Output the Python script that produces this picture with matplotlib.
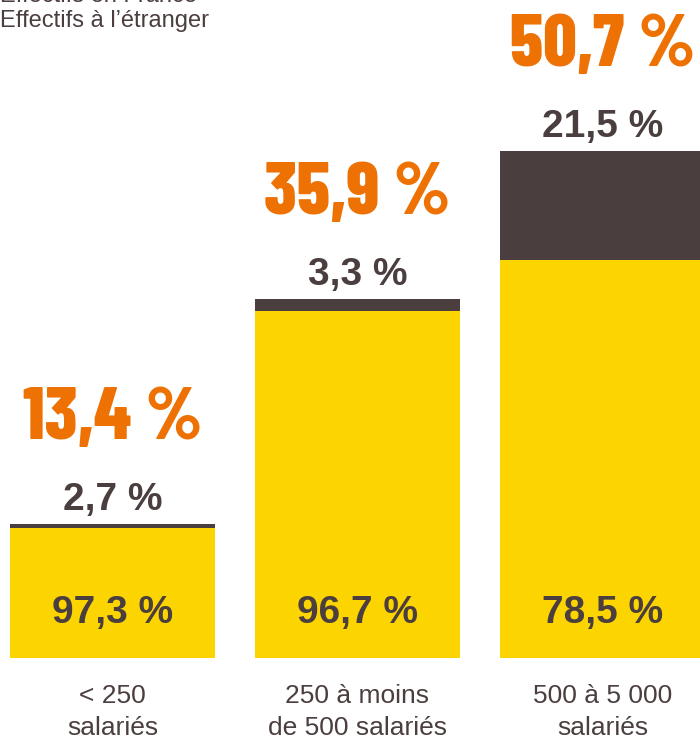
import matplotlib
matplotlib.use('Agg')
import matplotlib.pyplot as plt
import numpy as np

# données
categories = ['< 250\nsalariés', '250 à moins\nde 500 salariés', '500 à 5 000\nsalariés']
total = [13.4, 35.9, 50.7]          # part totale (hauteur de barre)
part_france = [97.3, 96.7, 78.5]    # % effectifs en France
part_etranger = [2.7, 3.3, 21.5]    # % effectifs à l'étranger

JAUNE = '#FCD500'
BRUN = '#4B3E3E'
ORANGE = '#EE7203'

def fmt(v):
    return f'{v:.1f}'.replace('.', ',') + ' %'

W, H = 700, 739
fig = plt.figure(figsize=(W/100, H/100), dpi=100)
bas = 81  # px depuis le bas
ax = fig.add_axes([0, bas/H, 1, (H-bas)/H])
ax.set_ylim(0, (H-bas)/10)
ax.set_xlim(-112.5/245, (W-112.5)/245)
ax.axis('off')

x = np.arange(len(total))
t = np.array(total)
fr = t * np.array(part_france) / 100
et = t * np.array(part_etranger) / 100
ax.bar(x, fr, width=205/245, color=JAUNE, linewidth=0)
ax.bar(x, et, bottom=fr, width=205/245, color=BRUN, linewidth=0)

for i in range(len(total)):
    ax.text(x[i], 3.5, fmt(part_france[i]), ha='center', va='baseline',
            fontsize=28, fontweight='bold', color=BRUN, family='Liberation Sans')
    ax.text(x[i], t[i] + 1.4, fmt(part_etranger[i]), ha='center', va='baseline',
            fontsize=28, fontweight='bold', color=BRUN, family='Liberation Sans')
    ax.text(x[i], t[i] + 8.5, fmt(total[i]), ha='center', va='baseline',
            fontsize=53, fontweight=800, color=ORANGE,
            family=['Barlow Condensed', 'DejaVu Sans'])
    # étiquettes de catégorie sur deux lignes
    for j, ligne in enumerate(categories[i].split('\n')):
        ax.text(x[i], -4.5 - 3.2*j, ligne, ha='center', va='baseline',
                fontsize=19, color=BRUN, family='Liberation Sans', clip_on=False)

# légende (coupée en haut)
fig.text(0, 1 - 2/H, 'Effectifs en France', ha='left', va='baseline',
         fontsize=17, color=BRUN, family='Liberation Sans')
fig.text(0, 1 - 27/H, 'Effectifs à l\u2019étranger', ha='left', va='baseline',
         fontsize=17, color=BRUN, family='Liberation Sans')

fig.savefig('out.png', dpi=100)
